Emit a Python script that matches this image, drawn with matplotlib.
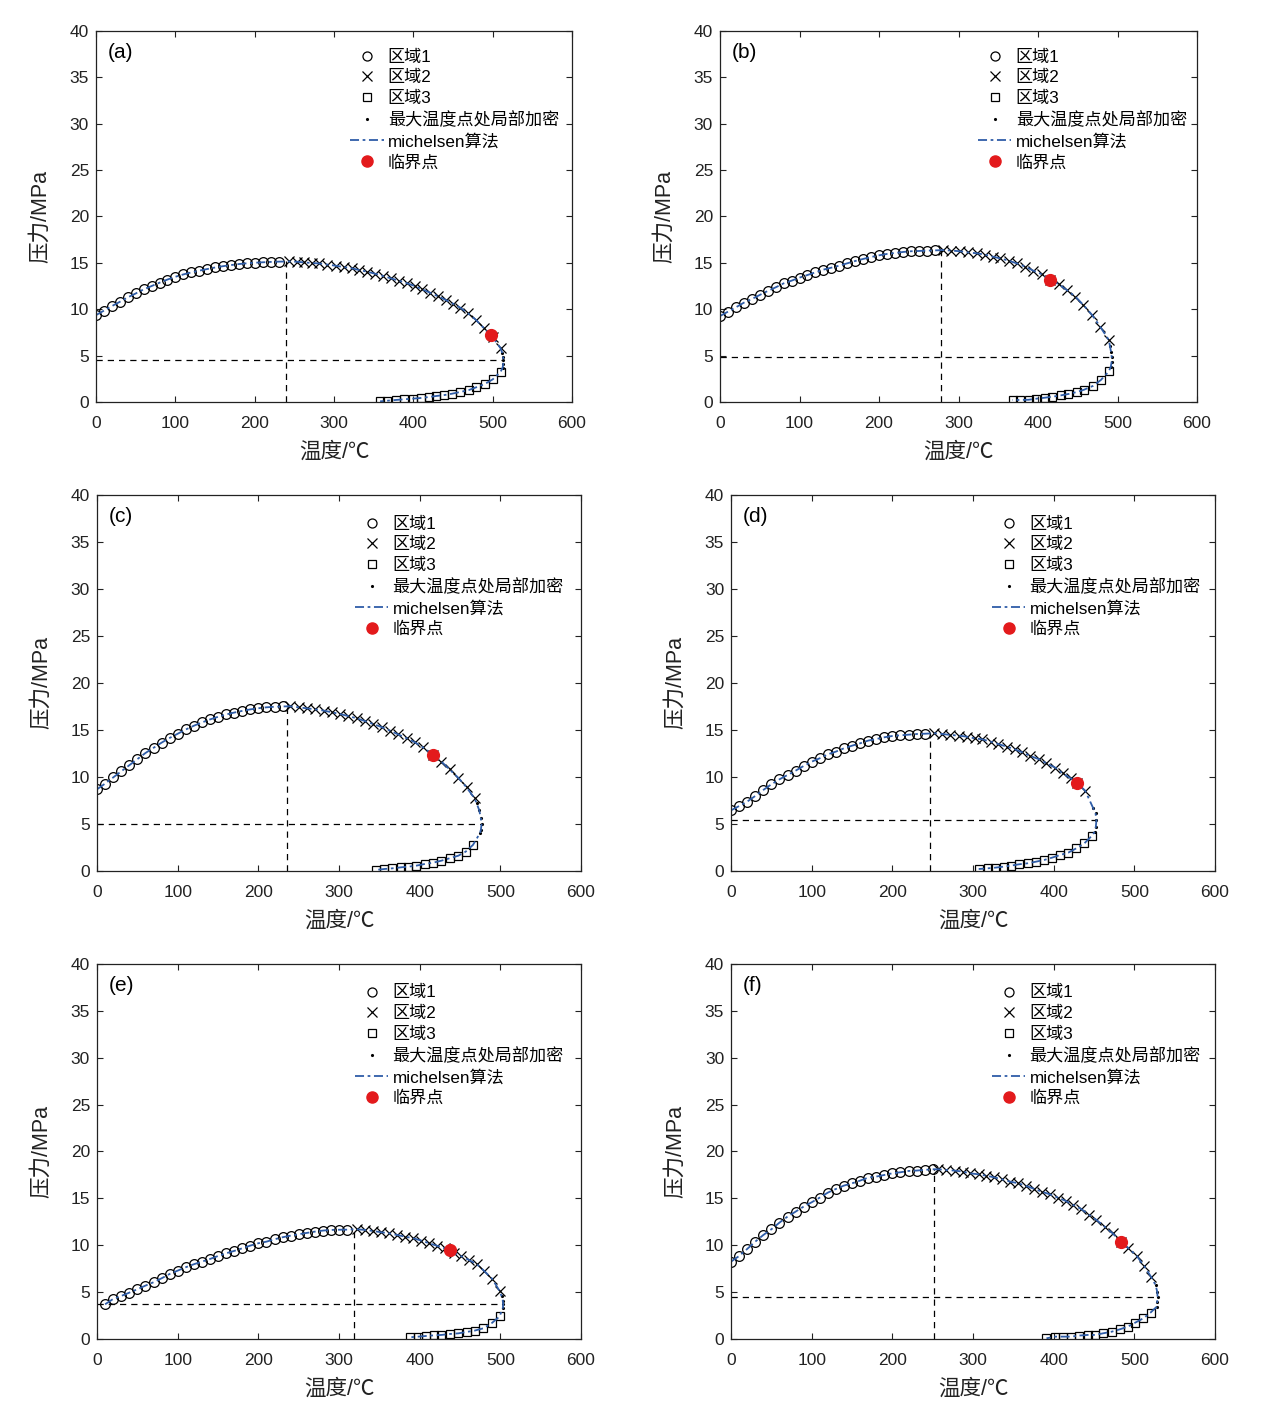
import matplotlib
matplotlib.use("Agg")
import matplotlib.pyplot as plt
from matplotlib.lines import Line2D

plt.rcParams['font.family'] = ['Liberation Sans', 'Noto Sans CJK SC', 'DejaVu Sans']

# ---- panel (a) ----
a_t1 = [0, 10, 20, 30, 40, 50, 60, 70, 80, 90, 100, 110, 120, 130, 140, 150, 160, 170, 180, 190, 200, 210, 220, 230]
a_p1 = [9.37, 9.85, 10.34, 10.8, 11.28, 11.7, 12.14, 12.5, 12.86, 13.2, 13.5, 13.75, 13.97, 14.16, 14.33, 14.5,
        14.64, 14.76, 14.87, 14.95, 15.01, 15.06, 15.1, 15.13]
a_t2 = [243, 253, 262, 272, 281, 291, 302, 312, 323, 332, 342, 352, 362, 372, 382, 392, 402, 411, 421, 431, 441,
        450, 459, 469, 479, 489, 500, 510]
a_p2 = [15.15, 15.12, 15.05, 14.98, 14.94, 14.82, 14.69, 14.55, 14.4, 14.22, 14.04, 13.82, 13.58, 13.32, 13.07,
        12.8, 12.5, 12.15, 11.78, 11.4, 10.99, 10.6, 10.17, 9.55, 8.84, 7.95, 7.0, 5.78]
a_td = [512, 513, 513.5, 513.2, 512.5]
a_pd = [5.3, 4.9, 4.5, 4.1, 3.7]
a_t3 = [358, 367, 378, 388, 399, 409, 420, 429, 439, 449, 459, 470, 479, 490, 500, 510]
a_p3 = [0.07, 0.14, 0.22, 0.29, 0.36, 0.43, 0.54, 0.65, 0.75, 0.9, 1.08, 1.29, 1.58, 1.94, 2.44, 3.27]
a_crit = (498, 7.2)
a_bar = (239, 15.16)
a_therm = (513.5, 4.53)

# ---- panel (b) ----
b_t1 = [0, 10, 20, 30, 40, 50, 60, 70, 80, 90, 100, 110, 120, 130, 140, 150, 160, 170, 180, 190, 200, 210, 220,
        230, 240, 250, 260, 270]
b_p1 = [9.27, 9.74, 10.21, 10.71, 11.1, 11.54, 11.97, 12.36, 12.79, 13.08, 13.41, 13.69, 13.98, 14.27, 14.48,
        14.7, 14.95, 15.2, 15.42, 15.63, 15.81, 15.96, 16.06, 16.17, 16.25, 16.28, 16.32, 16.34]
b_t2 = [281, 291, 302, 312, 323, 333, 343, 352, 363, 373, 384, 394, 405, 415, 426, 436, 447, 457, 468, 478, 489]
b_p2 = [16.38, 16.32, 16.25, 16.12, 16.03, 15.89, 15.67, 15.49, 15.24, 14.95, 14.59, 14.16, 13.76, 13.2, 12.69,
        12.08, 11.36, 10.46, 9.38, 8.13, 6.69]
b_td = [490.5, 491.8, 492.7, 492.5, 491.5]
b_pd = [6.0, 5.4, 4.82, 4.3, 3.8]
b_t3 = [368, 377, 388, 398, 409, 418, 429, 438, 449, 458, 469, 479, 489]
b_p3 = [0.22, 0.22, 0.24, 0.36, 0.47, 0.57, 0.72, 0.86, 1.08, 1.33, 1.73, 2.37, 3.3]
b_crit = (415, 13.15)
b_bar = (278, 16.38)
b_therm = (492.7, 4.82)

# ---- panel (c) ----
c_t1 = [0, 10, 20, 30, 40, 50, 60, 70, 80, 90, 100, 110, 120, 130, 140, 150, 160, 170, 180, 190, 200, 210, 220, 230]
c_p1 = [8.69, 9.3, 9.95, 10.6, 11.25, 11.9, 12.55, 13.1, 13.65, 14.15, 14.6, 15.05, 15.45, 15.8, 16.12, 16.4,
        16.65, 16.85, 17.03, 17.19, 17.31, 17.41, 17.47, 17.5]
c_t2 = [239, 250, 260, 270, 281, 291, 301, 311, 322, 332, 342, 353, 363, 373, 384, 394, 404, 417, 427, 437, 448,
        458, 468]
c_p2 = [17.52, 17.41, 17.3, 17.2, 17.06, 16.88, 16.7, 16.49, 16.24, 15.95, 15.64, 15.3, 14.93, 14.54, 14.11,
        13.69, 13.15, 12.33, 11.63, 10.8, 9.9, 8.9, 7.73]
c_td = [470.5, 473.7, 475.8, 476.6, 475.8, 474.6]
c_pd = [7.2, 6.49, 5.6, 4.96, 4.36, 4.01]
c_t3 = [346, 356, 366, 377, 386, 396, 406, 417, 427, 437, 448, 457, 466]
c_p3 = [0.11, 0.21, 0.28, 0.39, 0.46, 0.57, 0.74, 0.89, 1.1, 1.35, 1.63, 2.06, 2.77]
c_crit = (417, 12.33)
c_bar = (236, 17.5)
c_therm = (476.6, 4.96)

# ---- panel (d) ----
d_t1 = [0, 10, 20, 30, 40, 50, 60, 70, 80, 90, 100, 110, 120, 130, 140, 150, 160, 170, 180, 190, 200, 210, 220,
        230, 240]
d_p1 = [6.45, 6.91, 7.38, 7.98, 8.62, 9.22, 9.75, 10.21, 10.67, 11.17, 11.63, 11.99, 12.41, 12.7, 13.05, 13.33,
        13.58, 13.87, 14.04, 14.22, 14.36, 14.43, 14.5, 14.57, 14.6]
d_t2 = [252, 262, 272, 282, 292, 302, 311, 322, 331, 342, 352, 361, 371, 382, 391, 402, 411, 421, 429, 439]
d_p2 = [14.65, 14.57, 14.47, 14.4, 14.29, 14.11, 14.01, 13.76, 13.51, 13.22, 12.94, 12.62, 12.23, 11.88, 11.45,
        10.99, 10.39, 9.86, 9.33, 8.55]
d_td = [449, 451.8, 453, 452.2, 451]
d_pd = [6.67, 6.13, 5.43, 4.72, 4.18]
d_t3 = [307, 318, 327, 338, 347, 357, 368, 378, 388, 398, 408, 418, 428, 438, 447]
d_p3 = [0.21, 0.28, 0.35, 0.46, 0.57, 0.71, 0.82, 0.99, 1.17, 1.42, 1.7, 1.95, 2.41, 2.94, 3.72]
d_crit = (429, 9.33)
d_bar = (247, 14.65)
d_therm = (453, 5.43)

# ---- panel (e) ----
e_t1 = [10, 20, 30, 40, 50, 60, 70, 80, 90, 100, 110, 120, 130, 140, 150, 160, 170, 180, 190, 200, 210, 220, 230,
        240, 250, 260, 270, 280, 290, 300, 310]
e_p1 = [3.7, 4.27, 4.59, 4.94, 5.3, 5.69, 6.05, 6.47, 6.93, 7.29, 7.65, 7.97, 8.25, 8.53, 8.85, 9.14, 9.39, 9.67,
        9.96, 10.21, 10.38, 10.63, 10.85, 11.02, 11.17, 11.31, 11.45, 11.56, 11.63, 11.65, 11.66]
e_t2 = [322, 332, 342, 352, 362, 372, 382, 392, 402, 412, 422, 431, 442, 451, 461, 471, 480, 490, 499]
e_p2 = [11.7, 11.63, 11.52, 11.38, 11.27, 11.09, 10.91, 10.74, 10.49, 10.2, 9.92, 9.67, 9.21, 8.85, 8.43, 7.96,
        7.25, 6.4, 5.12]
e_td = [501.4, 503, 503.5, 503]
e_pd = [4.59, 4.1, 3.7, 3.3]
e_t3 = [388, 398, 408, 418, 427, 437, 448, 458, 468, 479, 489, 499]
e_p3 = [0.18, 0.25, 0.32, 0.39, 0.43, 0.53, 0.6, 0.75, 0.89, 1.14, 1.67, 2.4]
e_crit = (437, 9.49)
e_bar = (319, 11.7)
e_therm = (503.5, 3.7)

# ---- panel (f) ----
f_t1 = [0, 10, 20, 30, 40, 50, 60, 70, 80, 90, 100, 110, 120, 130, 140, 150, 160, 170, 180, 190, 200, 210, 220,
        230, 240, 250]
f_p1 = [8.25, 8.85, 9.6, 10.38, 11.09, 11.7, 12.41, 13.05, 13.58, 14.12, 14.58, 15.08, 15.61, 16.0, 16.36, 16.6,
        16.89, 17.21, 17.32, 17.49, 17.67, 17.78, 17.92, 17.96, 18.03, 18.1]
f_t2 = [257, 266, 277, 287, 296, 307, 316, 326, 336, 346, 356, 366, 376, 385, 395, 405, 415, 424, 434, 444, 453,
        463, 473, 483, 492, 503, 512, 521]
f_p2 = [18.1, 18.03, 17.96, 17.85, 17.67, 17.56, 17.42, 17.24, 17.03, 16.78, 16.6, 16.32, 16.0, 15.72, 15.43,
        15.08, 14.72, 14.3, 13.87, 13.23, 12.7, 11.98, 11.27, 10.38, 9.74, 8.85, 7.79, 6.58]
f_td = [526.2, 528.3, 528.7, 528.3, 527.5]
f_pd = [5.76, 5.05, 4.52, 3.97, 3.43]
f_t3 = [391, 402, 412, 422, 431, 442, 451, 461, 472, 482, 492, 501, 511, 520]
f_p3 = [0.07, 0.25, 0.25, 0.25, 0.36, 0.43, 0.43, 0.6, 0.78, 1.03, 1.32, 1.74, 2.2, 2.81]
f_crit = (484, 10.3)
f_bar = (251, 18.1)
f_therm = (528.7, 4.52)

labels = ["区域1", "区域2", "区域3", "最大温度点处局部加密", "michelsen算法", "临界点"]
xticks = [0, 100, 200, 300, 400, 500, 600]
yticks = [0, 5, 10, 15, 20, 25, 30, 35, 40]

panels = [
    ("(a)", [0.0758, 0.7167, 0.3757, 0.2615], (0.534, 0.950),
     a_t1, a_p1, a_t2, a_p2, a_td, a_pd, a_t3, a_p3, a_crit, a_bar, a_therm),
    ("(b)", [0.5683, 0.7167, 0.3765, 0.2615], (0.541, 0.950),
     b_t1, b_p1, b_t2, b_p2, b_td, b_pd, b_t3, b_p3, b_crit, b_bar, b_therm),
    ("(c)", [0.0766, 0.3862, 0.3820, 0.2650], (0.533, 0.943),
     c_t1, c_p1, c_t2, c_p2, c_td, c_pd, c_t3, c_p3, c_crit, c_bar, c_therm),
    ("(d)", [0.5770, 0.3862, 0.3820, 0.2650], (0.539, 0.943),
     d_t1, d_p1, d_t2, d_p2, d_td, d_pd, d_t3, d_p3, d_crit, d_bar, d_therm),
    ("(e)", [0.0766, 0.0564, 0.3820, 0.2643], (0.533, 0.943),
     e_t1, e_p1, e_t2, e_p2, e_td, e_pd, e_t3, e_p3, e_crit, e_bar, e_therm),
    ("(f)", [0.5770, 0.0564, 0.3820, 0.2643], (0.539, 0.943),
     f_t1, f_p1, f_t2, f_p2, f_td, f_pd, f_t3, f_p3, f_crit, f_bar, f_therm),
]

blue = "#2f5da8"
dashdot = (0, (5, 2, 1.5, 2))

fig = plt.figure(figsize=(12.67, 14.19), dpi=100)

for tag, rect, leg_pos, t1, p1, t2, p2, td, pd_, t3, p3, crit, bar, therm in panels:
    ax = fig.add_axes(rect)

    # dashed guide lines through cricondenbar / cricondentherm
    ax.plot([bar[0], bar[0]], [0, bar[1]], color="black", lw=0.9, ls=(0, (5, 4)))
    ax.plot([0, therm[0]], [therm[1], therm[1]], color="black", lw=0.9, ls=(0, (5, 4)))

    ax.plot(t1, p1, ls="none", marker="o", ms=7, mfc="none", mec="black", mew=0.9)
    ax.plot(t2, p2, ls="none", marker="x", ms=7, color="black", mew=0.9)
    ax.plot(t3, p3, ls="none", marker="s", ms=5.8, mfc="none", mec="black", mew=0.9)
    ax.plot(td, pd_, ls="none", marker=".", ms=2.5, color="black")

    env_t = t1 + t2 + td + t3[::-1]
    env_p = p1 + p2 + pd_ + p3[::-1]
    ax.plot(env_t, env_p, color=blue, lw=1.3, ls=dashdot)

    ax.plot([crit[0]], [crit[1]], ls="none", marker="o", ms=8.5, color="#e31a1c")

    ax.set_xlim(0, 600)
    ax.set_ylim(0, 40)
    ax.set_xticks(xticks)
    ax.set_yticks(yticks)
    ax.tick_params(direction="in", top=True, right=True, length=4, width=0.8,
                   labelsize=12.5, colors="#222222")
    ax.tick_params(axis="x", pad=10)
    ax.tick_params(axis="y", pad=5)
    for sp in ax.spines.values():
        sp.set_linewidth(0.9)
        sp.set_color("#222222")

    ax.set_xlabel("温度/℃", fontsize=15.5, labelpad=7.5, color="#222222")
    ax.set_ylabel("压力/MPa", fontsize=15.5, labelpad=13, color="#222222")
    ax.text(0.025, 0.943, tag, transform=ax.transAxes, fontsize=15, va="center", ha="left")

    handles = [
        Line2D([], [], ls="none", marker="o", ms=6.5, mfc="none", mec="black", mew=0.9),
        Line2D([], [], ls="none", marker="x", ms=6.5, color="black", mew=0.9),
        Line2D([], [], ls="none", marker="s", ms=5.5, mfc="none", mec="black", mew=0.9),
        Line2D([], [], ls="none", marker=".", ms=2.5, color="black"),
        Line2D([], [], color=blue, lw=1.3, ls=dashdot),
        Line2D([], [], ls="none", marker="o", ms=8, color="#e31a1c"),
    ]
    ax.legend(handles, labels, loc="upper left", bbox_to_anchor=leg_pos, frameon=False,
              fontsize=12.3, handlelength=1.95, handletextpad=0.25, labelspacing=0.32, borderpad=0,
              borderaxespad=0)

fig.savefig("out.png", dpi=100)
